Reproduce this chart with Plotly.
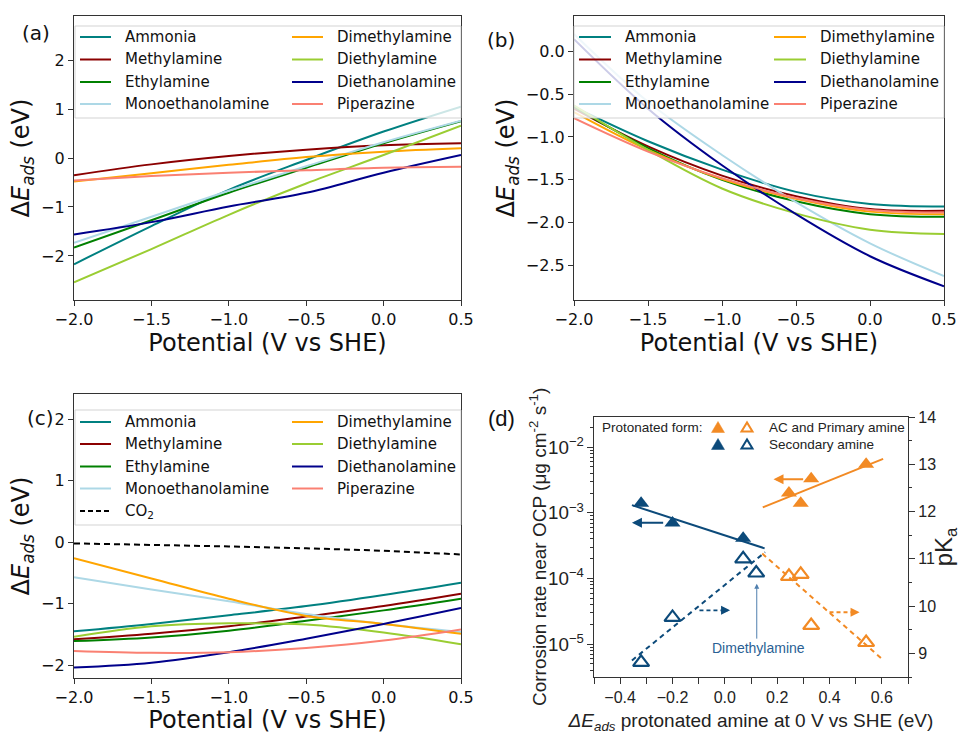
import plotly.graph_objects as go

W, H = 961, 734

# ---------------- data ----------------
potential = [-2.0, -1.5, -1.0, -0.5, 0.0, 0.5]
amine_names = ["Ammonia", "Methylamine", "Ethylamine", "Monoethanolamine",
               "Dimethylamine", "Diethylamine", "Diethanolamine", "Piperazine"]
amine_colors = ["#008080", "#8B0000", "#008000", "#ADD8E6",
                "#FFA500", "#9ACD32", "#00008B", "#FA8072"]

# panel (a)
a_ammonia = [-2.17, -1.39, -0.65, -0.04, 0.54, 1.05]
a_methylamine = [-0.35, -0.13, 0.04, 0.17, 0.26, 0.30]
a_ethylamine = [-1.83, -1.27, -0.71, -0.20, 0.30, 0.75]
a_mea = [-1.73, -1.20, -0.67, -0.17, 0.32, 0.76]
a_dimethylamine = [-0.48, -0.31, -0.14, 0.02, 0.13, 0.20]
a_diethylamine = [-2.54, -1.86, -1.16, -0.52, 0.06, 0.66]
a_diethanolamine = [-1.56, -1.31, -0.99, -0.71, -0.30, 0.06]
a_piperazine = [-0.46, -0.37, -0.30, -0.25, -0.20, -0.18]

# panel (b)
b_ammonia = [-0.65, -1.05, -1.38, -1.64, -1.78, -1.81]
b_methylamine = [-0.67, -1.11, -1.45, -1.69, -1.84, -1.86]
b_ethylamine = [-0.65, -1.13, -1.50, -1.75, -1.90, -1.93]
b_mea = [0.20, -0.59, -1.21, -1.76, -2.24, -2.62]
b_dimethylamine = [-0.71, -1.15, -1.49, -1.72, -1.87, -1.90]
b_diethylamine = [-0.63, -1.15, -1.60, -1.89, -2.08, -2.13]
b_diethanolamine = [0.14, -0.67, -1.33, -1.90, -2.39, -2.74]
b_piperazine = [-0.78, -1.17, -1.48, -1.71, -1.85, -1.88]

# panel (c)
c_ammonia = [-1.45, -1.33, -1.19, -1.04, -0.86, -0.66]
c_methylamine = [-1.58, -1.49, -1.37, -1.21, -1.04, -0.84]
c_ethylamine = [-1.61, -1.55, -1.44, -1.28, -1.11, -0.92]
c_mea = [-0.57, -0.77, -0.96, -1.17, -1.33, -1.46]
c_dimethylamine = [-0.26, -0.59, -0.92, -1.20, -1.33, -1.49]
c_diethylamine = [-1.54, -1.37, -1.32, -1.34, -1.47, -1.66]
c_diethanolamine = [-2.04, -1.96, -1.79, -1.57, -1.33, -1.07]
c_piperazine = [-1.77, -1.80, -1.79, -1.72, -1.60, -1.42]
c_co2 = [-0.02, -0.04, -0.07, -0.10, -0.14, -0.20]

# panel (d)
prim_dE = [0.245, 0.29, 0.33, 0.54]
prim_rate = [2.0e-3, 1.4e-3, 3.3e-3, 5.5e-3]
prim_pka = [10.63, 10.67, 9.59, 9.23]
sec_dE_rate = [-0.32, -0.20, 0.07]
sec_rate = [1.4e-3, 7.0e-4, 4.1e-4]
sec_dE_pka = [-0.32, -0.20, 0.07, 0.12]
sec_pka = [8.81, 9.76, 11.0, 10.7]
sec_fit_x = [-0.355, 0.152]
sec_fit_rate = [1.31e-3, 2.88e-4]
prim_fit_x = [0.145, 0.605]
prim_fit_rate = [1.21e-3, 6.64e-3]
sec_pka_fit_x = [-0.355, 0.154]
sec_pka_fit = [8.85, 11.14]
prim_pka_fit_x = [0.143, 0.599]
prim_pka_fit = [11.11, 8.89]

NAVY_D = "#0c4a7a"
ORANGE_D = "#f28a24"

# ---------------- helpers ----------------
def px(x):
    return x / W


def py(y):
    return 1 - y / H


fig = go.Figure()

panels = [
    ("x", "y", [a_ammonia, a_methylamine, a_ethylamine, a_mea,
                a_dimethylamine, a_diethylamine, a_diethanolamine, a_piperazine]),
    ("x2", "y2", [b_ammonia, b_methylamine, b_ethylamine, b_mea,
                  b_dimethylamine, b_diethylamine, b_diethanolamine, b_piperazine]),
    ("x3", "y3", [c_ammonia, c_methylamine, c_ethylamine, c_mea,
                  c_dimethylamine, c_diethylamine, c_diethanolamine, c_piperazine]),
]
for xa, ya, series in panels:
    for name, color, vals in zip(amine_names, amine_colors, series):
        fig.add_trace(go.Scatter(x=potential, y=vals, name=name, mode="lines",
                                 line=dict(color=color, width=2, shape="spline"),
                                 xaxis=xa, yaxis=ya, showlegend=False))
fig.add_trace(go.Scatter(x=potential, y=c_co2, name="CO2", mode="lines",
                         line=dict(color="black", width=2, dash="6px,4px"),
                         xaxis="x3", yaxis="y3", showlegend=False))

# panel d traces
fig.add_trace(go.Scatter(x=sec_fit_x, y=sec_fit_rate, mode="lines",
                         line=dict(color=NAVY_D, width=2), xaxis="x4", yaxis="y4", showlegend=False))
fig.add_trace(go.Scatter(x=prim_fit_x, y=prim_fit_rate, mode="lines",
                         line=dict(color=ORANGE_D, width=2), xaxis="x4", yaxis="y4", showlegend=False))
fig.add_trace(go.Scatter(x=sec_dE_rate, y=sec_rate, mode="markers",
                         marker=dict(symbol="triangle-up", size=14, color=NAVY_D),
                         xaxis="x4", yaxis="y4", showlegend=False))
fig.add_trace(go.Scatter(x=prim_dE, y=prim_rate, mode="markers",
                         marker=dict(symbol="triangle-up", size=14, color=ORANGE_D),
                         xaxis="x4", yaxis="y4", showlegend=False))
fig.add_trace(go.Scatter(x=sec_pka_fit_x, y=sec_pka_fit, mode="lines",
                         line=dict(color=NAVY_D, width=2, dash="5px,4px"), xaxis="x4", yaxis="y5", showlegend=False))
fig.add_trace(go.Scatter(x=prim_pka_fit_x, y=prim_pka_fit, mode="lines",
                         line=dict(color=ORANGE_D, width=2, dash="5px,4px"), xaxis="x4", yaxis="y5", showlegend=False))
fig.add_trace(go.Scatter(x=sec_dE_pka, y=sec_pka, mode="markers",
                         marker=dict(symbol="triangle-up-open", size=14, color=NAVY_D, line=dict(width=2.2)),
                         xaxis="x4", yaxis="y5", showlegend=False))
fig.add_trace(go.Scatter(x=prim_dE, y=prim_pka, mode="markers",
                         marker=dict(symbol="triangle-up-open", size=14, color=ORANGE_D, line=dict(width=2.2)),
                         xaxis="x4", yaxis="y5", showlegend=False))

# ---------------- axes ----------------
MPL_FONT = "DejaVu Sans"
ARIAL = "Liberation Sans"
mpl_axis = dict(showline=True, linecolor="#333", linewidth=1.2, mirror=True,
                ticks="outside", ticklen=5, tickwidth=1.2, tickcolor="#333",
                showgrid=False, zeroline=False, automargin=False,
                tickfont=dict(family=MPL_FONT, size=16, color="#111"))
xtitle = dict(text="Potential (V vs SHE)", font=dict(family=MPL_FONT, size=24, color="#111"), standoff=3)
ytitle = dict(text="Δ<i>E</i><sub><i>ads</i></sub> (eV)", font=dict(family=MPL_FONT, size=24, color="#111"), standoff=4)

dom_x_left = [px(74), px(461)]
dom_x_right = [px(574), px(944)]
dom_y_top = [py(300), py(16)]
dom_y_bot = [py(678), py(394)]

xt = dict(range=[-2.0, 0.5], tickvals=[-2.0, -1.5, -1.0, -0.5, 0.0, 0.5], tickformat=".1f")
fig.update_layout(
    xaxis=dict(**mpl_axis, **xt, domain=dom_x_left, anchor="y", title=xtitle),
    yaxis=dict(**mpl_axis, range=[-2.9, 2.9], dtick=1, domain=dom_y_top, anchor="x", title=ytitle),
    xaxis2=dict(**mpl_axis, **xt, domain=dom_x_right, anchor="y2", title=xtitle),
    yaxis2=dict(**mpl_axis, range=[-2.9, 0.41], dtick=0.5, tickformat=".1f", domain=dom_y_top, anchor="x2", title=ytitle),
    xaxis3=dict(**mpl_axis, **xt, domain=dom_x_left, anchor="y3", title=xtitle),
    yaxis3=dict(**mpl_axis, range=[-2.21, 2.41], dtick=1, domain=dom_y_bot, anchor="x3", title=ytitle),
)

d_axis = dict(showline=True, linecolor="#333", linewidth=1.3, ticks="outside", ticklen=6,
              tickwidth=1.3, tickcolor="#333", showgrid=False, zeroline=False, automargin=False,
              tickfont=dict(family=ARIAL, size=16, color="#222"))
fig.update_layout(
    xaxis4=dict(**d_axis, mirror=True, range=[-0.5, 0.7], dtick=0.2, tick0=0, tickformat=".1f",
                minor=dict(dtick=0.1, ticks="outside", ticklen=6, tickcolor="#333", tickwidth=1.3),
                domain=[px(594), px(908)], anchor="y4",
                title=dict(text="<i>ΔE<sub>ads</sub></i> protonated amine at 0 V vs SHE (eV)",
                           font=dict(family=ARIAL, size=19, color="#222"), standoff=13)),
    yaxis4=dict(**{**d_axis, "tickfont": dict(family=ARIAL, size=15, color="#222")},
                type="log", range=[-5.5, -1.54], dtick=1, exponentformat="power",
                minor=dict(ticks="outside", ticklen=3, dtick="D1", tickcolor="#333"),
                domain=[py(677), py(417)], anchor="x4"),
    yaxis5=dict(**d_axis, overlaying="y4", side="right", anchor="x4", range=[8.5, 14], dtick=1,
                minor=dict(dtick=0.5, ticks="outside", ticklen=3, tickcolor="#333"),
                title=dict(text="pK<sub>a</sub>", font=dict(family=ARIAL, size=24, color="#222"), standoff=16)),
)

# ---------------- manual legends for (a)-(c) ----------------
shapes = []
annotations = []


def add_legend(box, rows, cols_line, cols_text, entries):
    x0, x1, y0, y1 = box
    shapes.append(dict(type="rect", xref="paper", yref="paper", layer="above",
                       x0=px(x0), x1=px(x1), y0=py(y1), y1=py(y0),
                       fillcolor="rgba(255,255,255,0.8)", line=dict(color="rgba(200,200,200,0.8)", width=1)))
    for (label, color, dash, col, row) in entries:
        lx0, lx1 = cols_line[col]
        yy = rows[row]
        shapes.append(dict(type="line", xref="paper", yref="paper", layer="above",
                           x0=px(lx0), x1=px(lx1), y0=py(yy), y1=py(yy),
                           line=dict(color=color, width=2, dash=dash)))
        annotations.append(dict(text=label, xref="paper", yref="paper", x=px(cols_text[col]), y=py(yy),
                                xanchor="left", yanchor="middle", showarrow=False,
                                font=dict(family=MPL_FONT, size=15, color="#111")))


entries8 = []
for i, (n, c) in enumerate(zip(amine_names, amine_colors)):
    entries8.append((n, c, "solid", i // 4, i % 4))

add_legend((75, 461, 26, 118), [37, 59.5, 82, 104], [(80, 111), (292, 323)], [123, 335], entries8)
add_legend((574, 944, 26, 118), [37, 59.5, 82, 104], [(579, 611), (774, 806)], [623, 818], entries8)
add_legend((75, 461, 410, 525), [422, 444, 466.5, 488.5, 511], [(80, 111), (292, 323)], [123, 335],
           entries8 + [("CO<sub>2</sub>", "black", "5px,3px", 0, 4)])

# panel labels
for lab, x, y, fam, sz in [("(a)", 36, 33, MPL_FONT, 20), ("(b)", 501, 40, MPL_FONT, 20),
                           ("(c)", 40, 418, MPL_FONT, 20), ("(d)", 501, 418, ARIAL, 22)]:
    annotations.append(dict(text=lab, xref="paper", yref="paper", x=px(x), y=py(y),
                            xanchor="center", yanchor="middle", showarrow=False,
                            font=dict(family=fam, size=sz, color="#111")))

# panel (d) left axis title
annotations.append(dict(text="Corrosion rate near OCP (μg cm<sup>-2</sup> s<sup>-1</sup>)",
                        xref="paper", yref="paper", x=px(538), y=py(547), textangle=-90,
                        xanchor="center", yanchor="middle", showarrow=False,
                        font=dict(family=ARIAL, size=19, color="#222")))

# panel (d) legend
dl_font = dict(family=ARIAL, size=13.5, color="#222")
annotations.append(dict(text="Protonated form:", xref="paper", yref="paper", x=px(600), y=py(427),
                        xanchor="left", yanchor="middle", showarrow=False, font=dl_font))
for txt, yy in [("AC and Primary amine", 427), ("Secondary amine", 444)]:
    annotations.append(dict(text=txt, xref="paper", yref="paper", x=px(767), y=py(yy),
                            xanchor="left", yanchor="middle", showarrow=False, font=dl_font))


def tri_path(cx, cy, w, h):
    # triangle pointing up, bbox centered on (cx, cy) in pixels
    return ("M {:.5f},{:.5f} L {:.5f},{:.5f} L {:.5f},{:.5f} Z".format(
        px(cx - w / 2), py(cy + h / 2), px(cx + w / 2), py(cy + h / 2), px(cx), py(cy - h / 2)))


for cx, cy, color, filled in [(718, 427, ORANGE_D, True), (747, 427, ORANGE_D, False),
                              (718, 444, NAVY_D, True), (747, 444, NAVY_D, False)]:
    if filled:
        shapes.append(dict(type="path", xref="paper", yref="paper", path=tri_path(cx, cy, 13, 11),
                           fillcolor=color, line=dict(color=color, width=0.5)))
    else:
        shapes.append(dict(type="path", xref="paper", yref="paper", path=tri_path(cx, cy, 11, 9),
                           fillcolor="rgba(0,0,0,0)", line=dict(color=color, width=2)))

# panel (d) arrows
annotations.append(dict(x=-0.355, y=-3.152, ax=-0.23, ay=-3.152, xref="x4", yref="y4", axref="x4", ayref="y4",
                        text="", showarrow=True, arrowhead=2, arrowsize=1, arrowwidth=2, arrowcolor=NAVY_D))
annotations.append(dict(x=0.186, y=-2.49, ax=0.305, ay=-2.49, xref="x4", yref="y4", axref="x4", ayref="y4",
                        text="", showarrow=True, arrowhead=2, arrowsize=1, arrowwidth=2, arrowcolor=ORANGE_D))
for x0, x1, yy, col in [(-0.097, 0.02, 9.91, NAVY_D), (0.40, 0.515, 9.87, ORANGE_D)]:
    shapes.append(dict(type="line", xref="x4", yref="y5", x0=x0, x1=x1 - 0.02, y0=yy, y1=yy,
                       line=dict(color=col, width=1.8, dash="4px,3px")))
    annotations.append(dict(x=x1, y=yy, ax=x1 - 0.025, ay=yy, xref="x4", yref="y5", axref="x4", ayref="y5",
                            text="", showarrow=True, arrowhead=2, arrowsize=1, arrowwidth=1.8, arrowcolor=col))
# Dimethylamine pointer
annotations.append(dict(x=0.122, y=10.47, ax=0.122, ay=9.28, xref="x4", yref="y5", axref="x4", ayref="y5",
                        text="", showarrow=True, arrowhead=2, arrowsize=1, arrowwidth=1, arrowcolor="#4f7fae"))
annotations.append(dict(text="Dimethylamine", x=0.13, y=9.12, xref="x4", yref="y5", showarrow=False,
                        xanchor="center", yanchor="middle", font=dict(family=ARIAL, size=14, color="#2a5f94")))

fig.update_layout(
    template="none",
    width=W, height=H,
    margin=dict(l=0, r=0, t=0, b=0),
    paper_bgcolor="white", plot_bgcolor="white",
    showlegend=False,
    shapes=shapes,
    annotations=annotations,
)

fig.write_html("out.html")
